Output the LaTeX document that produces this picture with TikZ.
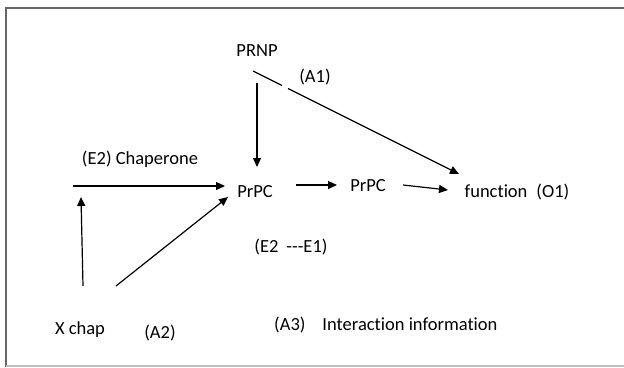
\documentclass[tikz,border=0pt]{standalone}
\usepackage{fontspec}
\setmainfont{Carlito}[Ligatures=NoCommon]
\usetikzlibrary{arrows.meta}
\begin{document}
\begin{tikzpicture}[x=1pt,y=-1pt,
  lbl/.style={inner sep=0pt, font=\fontsize{18.5}{21}\selectfont, anchor=center},
  arr/.style={line width=1.2pt, -{Triangle[length=9pt,width=8pt]}},
  ln/.style={line width=1.2pt}]
\useasboundingbox (0,0) rectangle (624,367);
% frame
\draw[line width=2pt, color=gray!80!black] (6,367) -- (6,8) -- (624,8);
\draw[line width=1.5pt, color=gray!50] (6,366) -- (624,366);
% texts
\node[lbl] (prnp) at (257,51) {PRNP};
\node[lbl] (a1) at (315,77) {(A1)};
\node[lbl] (chap) at (140,159) {(E2) Chaperone};
\node[lbl] (prpc1) at (255,192) {PrPC};
\node[lbl] (prpc2) at (368,186) {PrPC};
\node[lbl] (func) at (517,192) {function\hspace{9pt}(O1)};
\node[lbl] (e2e1) at (291,247) {(E2\hspace{8pt}-{}-{}-E1)};
\node[lbl] (xchap) at (80,330) {X chap};
\node[lbl] (a2) at (160,333) {(A2)};
\node[lbl, anchor=west] (a3) at (274,325) {(A3)\hspace{17pt}Interaction information};
% connector end points
\coordinate (pdS) at (257,83);
\coordinate (pdE) at (257,167);
\coordinate (chS) at (73,186);
\coordinate (chE) at (225,186);
\coordinate (upS) at (83,286);
\coordinate (upE) at (81,197);
\coordinate (dgS) at (116,286);
\coordinate (dgE) at (228,197);
\coordinate (ppS) at (296,185);
\coordinate (ppE) at (337,185);
\coordinate (pfS) at (403,185);
\coordinate (pfE) at (448,190);
\coordinate (lgA) at (253,71);
\coordinate (lgB) at (282,85.5);
\coordinate (lgC) at (288,88.5);
\coordinate (lgD) at (459,174);
% connectors
\draw[arr] (pdS) -- (pdE);
\draw[arr] (chS) -- (chE);
\draw[arr] (upS) -- (upE);
\draw[arr] (dgS) -- (dgE);
\draw[arr] (ppS) -- (ppE);
\draw[arr] (pfS) -- (pfE);
\draw[ln] (lgA) -- (lgB);
\draw[arr] (lgC) -- (lgD);
\end{tikzpicture}
\end{document}
